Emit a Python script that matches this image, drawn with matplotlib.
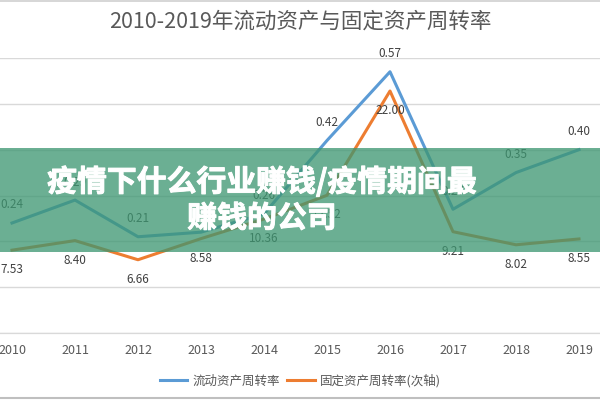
import matplotlib
matplotlib.use("Agg")
import matplotlib.pyplot as plt
import matplotlib.patheffects as pe
from matplotlib.patches import Rectangle
from matplotlib.lines import Line2D

plt.rcParams['font.family'] = ['Noto Sans CJK SC', 'DejaVu Sans']

# data
years = ['2010', '2011', '2012', '2013', '2014', '2015', '2016', '2017', '2018', '2019']
current_turnover = [0.24, 0.29, 0.21, 0.22, 0.26, 0.42, 0.57, 0.27, 0.35, 0.40]
fixed_turnover = [7.53, 8.40, 6.66, 8.58, 10.36, 12.52, 22.00, 9.21, 8.02, 8.55]

blue = '#5B9BD5'
orange = '#ED7D31'
grid_c = '#D9D9D9'
text_c = '#595959'
label_c = '#404040'

fig = plt.figure(figsize=(6, 4), dpi=100)

# plot area is wider than the picture (the original was cropped)
ax = fig.add_axes([-19.5 / 600, 67 / 400, 630 / 600, 275 / 400])
ax2 = ax.twinx()

x = list(range(len(years)))
ax.plot(x, current_turnover, color=blue, lw=2.2, zorder=3)
ax2.plot(x, fixed_turnover, color=orange, lw=2.2, zorder=3)

ax.set_xlim(-0.5, len(years) - 0.5)
ax.set_ylim(0, 0.6)
ax2.set_ylim(0, 25)
ax.set_yticks([0, 0.1, 0.2, 0.3, 0.4, 0.5, 0.6])
ax.yaxis.grid(True, color=grid_c, lw=1)
ax.set_axisbelow(True)
ax.tick_params(axis='y', length=0, labelleft=False)
ax2.tick_params(axis='y', length=0, labelright=False)
ax.set_xticks(x)
ax.set_xticklabels(years, fontsize=9, color=text_c)
ax.tick_params(axis='x', length=0, pad=8)
for a in (ax, ax2):
    for s in ['top', 'left', 'right']:
        a.spines[s].set_visible(False)
    a.spines['bottom'].set_color(grid_c)

for i, v in enumerate(current_turnover):
    ax.annotate(f'{v:.2f}', (i, v), xytext=(0, 13), textcoords='offset points',
                ha='center', va='center', fontsize=8.5, color=label_c)
for i, v in enumerate(fixed_turnover):
    ax2.annotate(f'{v:.2f}', (i, v), xytext=(0, -14), textcoords='offset points',
                 ha='center', va='center', fontsize=8.5, color=label_c)

fig.text(0.5, 1 - 22 / 400, '2010-2019年流动资产与固定资产周转率',
         ha='center', va='center', fontsize=15.5, color=text_c)

handles = [Line2D([], [], color=blue, lw=2.2), Line2D([], [], color=orange, lw=2.2)]
fig.legend(handles, ['流动资产周转率', '固定资产周转率(次轴)'], loc='center',
           bbox_to_anchor=(0.5, 19 / 400), ncol=2, frameon=False, fontsize=9,
           handlelength=2.2, columnspacing=0.6, handletextpad=0.4, labelcolor=text_c)

# chart border lines
fig.add_artist(Line2D([0, 1], [0.997, 0.997], color='#D0D0D0', lw=1.2))
fig.add_artist(Line2D([0, 1], [0.004, 0.004], color='#BFBFBF', lw=1.5))

# green banner over the chart
fig.add_artist(Rectangle((0, 148 / 400), 1, 104 / 400, transform=fig.transFigure,
                         facecolor='#3D9671', alpha=0.76, edgecolor='none', zorder=10))
fig.text(262 / 600, 1 - 200 / 400, '疫情下什么行业赚钱/疫情期间最\n赚钱的公司',
         ha='center', va='center', fontsize=21.5, fontweight='bold', color='white',
         linespacing=1.25, zorder=11,
         path_effects=[pe.withStroke(linewidth=0.7, foreground='white')])

fig.savefig('out.png', dpi=100)
